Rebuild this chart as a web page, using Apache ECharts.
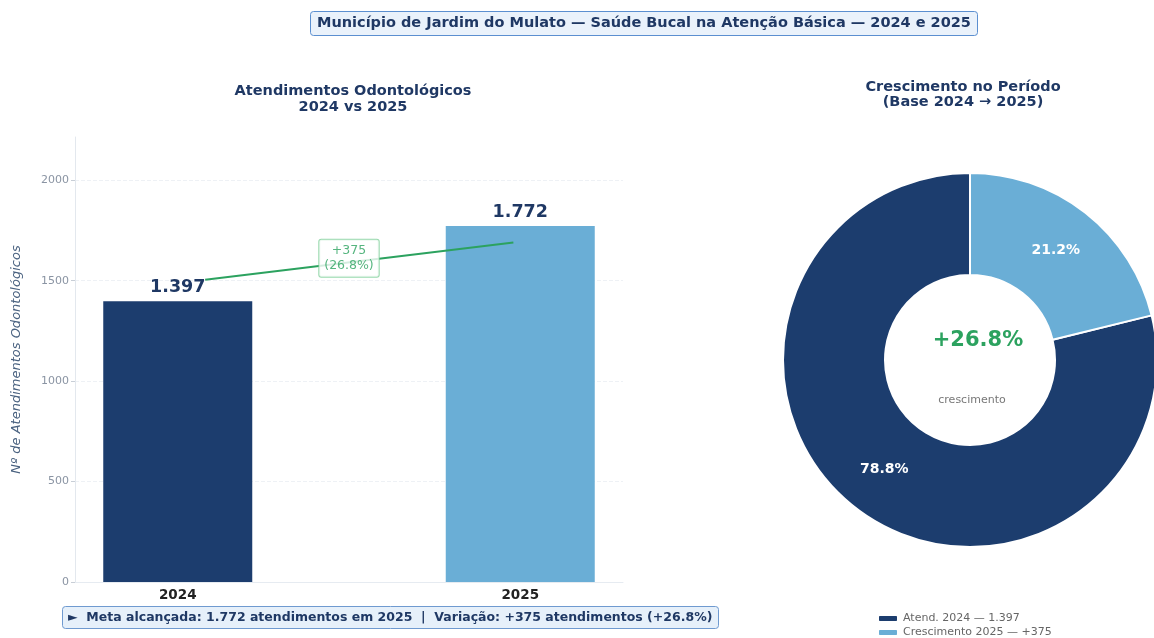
<!DOCTYPE html>
<html>
<head>
<meta charset="utf-8">
<script src="https://cdn.jsdelivr.net/npm/echarts@6/dist/echarts.min.js"></script>
<style>
  html, body { margin: 0; padding: 0; background: #fff; }
  #main { width: 1154px; height: 638px; }
</style>
</head>
<body>
<div id="main"></div>
<script>
// dados
var anos = ['2024', '2025'];
var atendimentos = [1397, 1772];
var yTicks = [0, 500, 1000, 1500, 2000];
var setaCrescimento = [[0.08, 1505], [0.98, 1690]];
var rotuloSeta = [[0.5, 1612]];
var rosca = ['Atend. 2024 — 1.397', 'Crescimento 2025 — +375'];
var roscaValores = [1397, 375];

var navy = '#1c3d6e', azul = '#6aaed6', verde = '#2ca25f', tituloCor = '#1f3864';
var fonte = 'DejaVu Sans';

var fmtBR = function (n) {
    return String(n).replace(/\B(?=(\d{3})+(?!\d))/g, '.');
};
var diff = atendimentos[1] - atendimentos[0];
var pct = (diff / atendimentos[0] * 100).toFixed(1);

var chart = echarts.init(document.getElementById('main'));

var option = {
    backgroundColor: '#fff',
    textStyle: { fontFamily: fonte },
    title: [
        {
            text: 'Município de Jardim do Mulato — Saúde Bucal na Atenção Básica — 2024 e 2025',
            left: 310, top: 11,
            padding: [5, 7, 5, 7],
            backgroundColor: '#eaf2fb',
            borderColor: '#5b8fd0',
            borderWidth: 1,
            borderRadius: 3,
            textStyle: { fontSize: 14.5, fontWeight: 'bold', color: tituloCor, fontFamily: fonte }
        },
        {
            text: 'Atendimentos Odontológicos\n2024 vs 2025',
            left: 348, top: 78, textAlign: 'center',
            textStyle: { fontSize: 14.5, fontWeight: 'bold', color: tituloCor, lineHeight: 16, fontFamily: fonte }
        },
        {
            text: 'Crescimento no Período\n(Base 2024 → 2025)',
            left: 958, top: 75, textAlign: 'center',
            textStyle: { fontSize: 14.5, fontWeight: 'bold', color: tituloCor, lineHeight: 15, fontFamily: fonte }
        },
        {
            text: '►  Meta alcançada: ' + fmtBR(atendimentos[1]) + ' atendimentos em 2025  |  Variação: +' + diff +
                ' atendimentos (+' + pct + '%)',
            left: 62, top: 606,
            padding: [5, 6, 5, 6],
            backgroundColor: '#e6f0fa',
            borderColor: '#6f9ad0',
            borderWidth: 1,
            borderRadius: 3,
            textStyle: { fontSize: 12.5, fontWeight: 'bold', color: tituloCor, fontFamily: fonte }
        }
    ],
    grid: { left: 75, top: 137, width: 548, height: 445 },
    xAxis: {
        type: 'value', min: -0.3, max: 1.3,
        axisLine: { show: true, onZero: false, lineStyle: { color: '#e6ebf1' } },
        axisTick: { show: false },
        splitLine: { show: false },
        axisLabel: {
            customValues: [0, 1],
            formatter: function (v) { return anos[Math.round(v)]; },
            fontSize: 13.5, fontWeight: 'bold', color: '#222', margin: 6
        }
    },
    yAxis: {
        type: 'value', min: 0, max: 2215, interval: 500,
        name: 'Nº de Atendimentos Odontológicos',
        nameLocation: 'middle', nameGap: 52,
        nameTextStyle: { fontSize: 13, fontStyle: 'italic', color: '#4a6280' },
        axisLine: { show: true, onZero: false, lineStyle: { color: '#e3e8ee' } },
        axisTick: { show: true, customValues: yTicks, length: 4, lineStyle: { color: '#c8ced6' } },
        axisLabel: {
            customValues: yTicks, fontSize: 11, color: '#8a94a3', margin: 6,
            formatter: function (v) { return String(v); }
        },
        splitLine: { show: true, lineStyle: { color: '#eef1f5', type: 'dashed' } }
    },
    legend: {
        orient: 'vertical', left: 872, top: 608, height: 40,
        itemWidth: 20, itemHeight: 7, itemGap: 3,
        data: rosca,
        textStyle: { fontSize: 11, color: '#666' }
    },
    graphic: [
        {
            type: 'text', x: 978, y: 341, z: 100,
            style: { text: '+' + pct + '%', fill: verde, fontSize: 21, fontWeight: 'bold', fontFamily: fonte, align: 'center', verticalAlign: 'middle' }
        },
        {
            type: 'text', x: 972, y: 400, z: 100,
            style: { text: 'crescimento', fill: '#777', fontSize: 11, fontFamily: fonte, align: 'center', verticalAlign: 'middle' }
        }
    ],
    series: [
        {
            type: 'bar',
            barWidth: 149,
            data: atendimentos.map(function (v, i) {
                return { value: [i, v], itemStyle: { color: i === 0 ? navy : azul } };
            }),
            label: {
                show: true, position: 'top', distance: 5,
                formatter: function (p) { return fmtBR(p.value[1]); },
                fontSize: 17.5, fontWeight: 'bold', color: tituloCor
            },
            z: 2
        },
        {
            type: 'line',
            data: setaCrescimento,
            showSymbol: false,
            lineStyle: { color: verde, width: 2 },
            z: 5
        },
        {
            type: 'scatter',
            data: rotuloSeta,
            symbolSize: 0,
            label: {
                show: true, position: 'inside',
                formatter: function () { return '+' + diff + '\n(' + pct + '%)'; },
                fontSize: 12.5, color: verde, lineHeight: 15,
                backgroundColor: '#fff', borderColor: '#7fcf9a', borderWidth: 1,
                borderRadius: 2, padding: [4, 5, 3, 5]
            },
            z: 6
        },
        {
            type: 'pie',
            center: [970, 360],
            radius: [85, 187],
            startAngle: 90,
            clockwise: false,
            itemStyle: { borderColor: '#fff', borderWidth: 2 },
            label: {
                show: true, position: 'inside',
                formatter: function (p) { return p.percent.toFixed(1) + '%'; },
                color: '#fff', fontSize: 14, fontWeight: 'bold'
            },
            labelLine: { show: false },
            emphasis: { disabled: true },
            data: rosca.map(function (n, i) {
                return { name: n, value: roscaValores[i], itemStyle: { color: i === 0 ? navy : azul } };
            })
        }
    ]
};

chart.setOption(option);
</script>
</body>
</html>
